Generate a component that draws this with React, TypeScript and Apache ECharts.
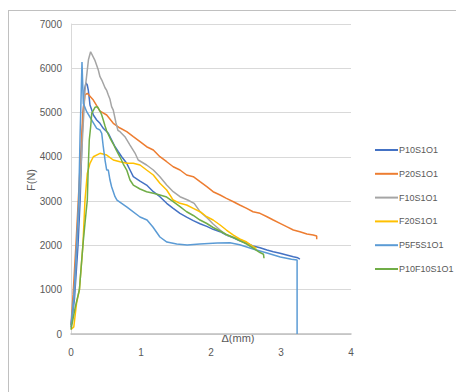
import React, { useEffect, useRef } from "react";
import * as echarts from "echarts";

const seriesNames = ["P10S1O1", "P20S1O1", "F10S1O1", "F20S1O1", "P5F5S1O1", "P10F10S1O1"];
const seriesColors = ["#4472C4", "#ED7D31", "#A5A5A5", "#FFC000", "#5B9BD5", "#70AD47"];

const p10s1o1: [number, number][] = [
  [0, 150], [0.05, 800], [0.1, 2000], [0.13, 3000], [0.16, 4500], [0.19, 5500], [0.214, 5667], [0.233, 5622],
  [0.247, 5509], [0.261, 5321], [0.271, 5170], [0.296, 5057], [0.319, 4945], [0.367, 4832], [0.414, 4757],
  [0.461, 4644], [0.533, 4531], [0.581, 4380], [0.629, 4229], [0.676, 4116], [0.724, 4003], [0.796, 3854],
  [0.843, 3703], [0.89, 3552], [0.986, 3454], [1.08, 3364], [1.176, 3213], [1.27, 3100], [1.367, 2951],
  [1.46, 2838], [1.557, 2725], [1.652, 2640], [1.747, 2560], [1.843, 2490], [1.94, 2430], [2.03, 2364],
  [2.13, 2310], [2.22, 2235], [2.32, 2170], [2.41, 2107], [2.51, 2048], [2.6, 1987], [2.7, 1949], [2.8, 1897],
  [2.89, 1858], [2.986, 1822], [3.08, 1784], [3.176, 1745], [3.24, 1720], [3.27, 1690],
];

const p20s1o1: [number, number][] = [
  [0, 200], [0.03, 900], [0.07, 2000], [0.12, 3500], [0.17, 5000], [0.2, 5400], [0.233, 5434], [0.319, 5283],
  [0.414, 5035], [0.51, 4945], [0.604, 4757], [0.7, 4651], [0.796, 4568], [0.89, 4455], [0.986, 4342],
  [1.08, 4229], [1.176, 4154], [1.27, 4003], [1.367, 3890], [1.46, 3777], [1.557, 3703], [1.652, 3590],
  [1.747, 3552], [1.843, 3439], [1.94, 3326], [2.03, 3213], [2.13, 3138], [2.22, 3064], [2.32, 2987],
  [2.41, 2913], [2.51, 2838], [2.6, 2761], [2.7, 2725], [2.8, 2648], [2.89, 2574], [2.986, 2499], [3.08, 2423],
  [3.176, 2348], [3.27, 2310], [3.37, 2260], [3.46, 2235], [3.51, 2213], [3.51, 2140],
];

const f10s1o1: [number, number][] = [
  [0, 150], [0.05, 1000], [0.1, 2500], [0.15, 4000], [0.2, 5500], [0.25, 6200], [0.28, 6374], [0.34, 6186],
  [0.39, 5960], [0.414, 5810], [0.44, 5735], [0.486, 5560], [0.51, 5500], [0.533, 5396], [0.557, 5300],
  [0.58, 5133], [0.604, 5057], [0.643, 4764], [0.67, 4600], [0.7, 4568], [0.77, 4455], [0.843, 4267],
  [0.914, 4086], [0.96, 3929], [1.08, 3816], [1.176, 3703], [1.27, 3552], [1.367, 3364], [1.46, 3213],
  [1.557, 3100], [1.667, 3025], [1.76, 2951], [1.843, 2762], [1.95, 2613], [2.03, 2484], [2.13, 2348],
  [2.22, 2235], [2.32, 2183], [2.41, 2138], [2.51, 2062], [2.6, 1971],
];

const f20s1o1: [number, number][] = [
  [0, 100], [0.04, 160], [0.08, 700], [0.12, 1000], [0.17, 2000], [0.2, 3025], [0.233, 3628], [0.271, 3854],
  [0.319, 4003], [0.414, 4080], [0.51, 4041], [0.604, 3929], [0.7, 3890], [0.796, 3854], [0.89, 3854],
  [0.986, 3816], [1.08, 3703], [1.176, 3590], [1.27, 3402], [1.367, 3251], [1.46, 3025], [1.557, 2951],
  [1.652, 2913], [1.747, 2838], [1.843, 2761], [1.94, 2648], [2.03, 2574], [2.13, 2461], [2.22, 2348],
  [2.32, 2235], [2.41, 2145], [2.51, 2077], [2.6, 1976], [2.65, 1935],
];

const p5f5s1o1: [number, number][] = [
  [0, 200], [0.04, 800], [0.08, 2000], [0.11, 3000], [0.13, 4500], [0.157, 6141], [0.176, 5209], [0.224, 5019],
  [0.296, 4832], [0.367, 4644], [0.414, 4606], [0.439, 4531], [0.461, 4229], [0.486, 3929], [0.51, 3703],
  [0.533, 3703], [0.557, 3477], [0.58, 3326], [0.629, 3100], [0.657, 3025], [0.8, 2867], [0.986, 2642],
  [1.086, 2574], [1.17, 2416], [1.27, 2190], [1.37, 2077], [1.51, 2032], [1.66, 2010], [1.84, 2032],
  [2.09, 2055], [2.27, 2060], [2.41, 2015], [2.6, 1919], [2.8, 1829], [2.99, 1739], [3.15, 1690],
  [3.23, 1671], [3.23, 0],
];

const p10f10s1o1: [number, number][] = [
  [0, 100], [0.06, 600], [0.12, 1000], [0.17, 2000], [0.2, 2500], [0.233, 3025], [0.247, 3777], [0.261, 4380],
  [0.281, 4681], [0.296, 4983], [0.343, 5118], [0.376, 5133], [0.414, 5035], [0.439, 4945], [0.461, 4832],
  [0.486, 4696], [0.51, 4583], [0.557, 4425], [0.604, 4290], [0.653, 4132], [0.7, 3996], [0.747, 3838],
  [0.796, 3703], [0.843, 3477], [0.89, 3364], [0.986, 3274], [1.08, 3213], [1.176, 3177], [1.27, 3138],
  [1.367, 3093], [1.46, 2987], [1.557, 2874], [1.652, 2761], [1.747, 2676], [1.843, 2574], [1.94, 2495],
  [2.03, 2405], [2.13, 2326], [2.22, 2247], [2.32, 2179], [2.41, 2107], [2.51, 2032], [2.6, 1942],
  [2.7, 1840], [2.75, 1800], [2.757, 1710],
];

const seriesData = [p10s1o1, p20s1o1, f10s1o1, f20s1o1, p5f5s1o1, p10f10s1o1];

const xTitle = "Δ(mm)";
const yTitle = "F(N)";

const FONT = "'Liberation Sans', Arial, sans-serif";
const TEXT = "#595959";

export default function App() {
  const ref = useRef<HTMLDivElement>(null);
  useEffect(() => {
    if (!ref.current) return;
    const chart = echarts.init(ref.current, undefined, { renderer: "svg" });
    chart.setOption({
      animation: false,
      backgroundColor: "#ffffff",
      textStyle: { fontFamily: FONT },
      grid: { left: 71, right: 105, top: 24, bottom: 58, containLabel: false },
      xAxis: {
        type: "value",
        min: 0,
        max: 4,
        interval: 1,
        axisLine: { show: true, lineStyle: { color: "#bfbfbf", width: 1.5 } },
        axisTick: { show: false },
        splitLine: { show: false },
        axisLabel: { color: TEXT, fontSize: 10, margin: 13, fontFamily: FONT, formatter: (v: number) => String(v) },
      },
      yAxis: {
        type: "value",
        min: 0,
        max: 7000,
        interval: 1000,
        axisLine: { show: true, lineStyle: { color: "#d9d9d9", width: 1 } },
        axisTick: { show: false },
        splitLine: { show: true, lineStyle: { color: "#d9d9d9", width: 1 } },
        axisLabel: { color: TEXT, fontSize: 10, margin: 9, fontFamily: FONT, formatter: (v: number) => String(v) },
      },
      legend: {
        orient: "vertical",
        left: 370,
        top: 138,
        icon: "rect",
        itemWidth: 23,
        itemHeight: 2,
        itemGap: 9.8,
        data: seriesNames,
        textStyle: { color: TEXT, fontSize: 9, lineHeight: 14, fontFamily: FONT, padding: [0, 0, 0, -4] },
      },
      graphic: [
        { type: "line", shape: { x1: 8, y1: 10.5, x2: 456, y2: 10.5 }, style: { stroke: "#c0c0c0", lineWidth: 1 } },
        { type: "line", shape: { x1: 8.5, y1: 10, x2: 8.5, y2: 392 }, style: { stroke: "#c0c0c0", lineWidth: 1 } },
        {
          type: "text",
          x: 238,
          y: 338,
          style: { text: xTitle, fill: TEXT, font: `11px ${FONT}`, textAlign: "center", textVerticalAlign: "middle" },
        },
        {
          type: "text",
          x: 31,
          y: 180,
          rotation: Math.PI / 2,
          style: { text: yTitle, fill: TEXT, font: `11px ${FONT}`, textAlign: "center", textVerticalAlign: "middle" },
        },
      ],
      series: seriesNames.map((name, i) => ({
        name,
        type: "line",
        data: seriesData[i],
        showSymbol: false,
        symbol: "none",
        lineStyle: { color: seriesColors[i], width: 1.5 },
        itemStyle: { color: seriesColors[i] },
        z: 2 + i,
      })),
    });
    return () => chart.dispose();
  }, []);
  return <div ref={ref} style={{ position: "fixed", left: 0, top: 0, width: 456, height: 392 }} />;
}
